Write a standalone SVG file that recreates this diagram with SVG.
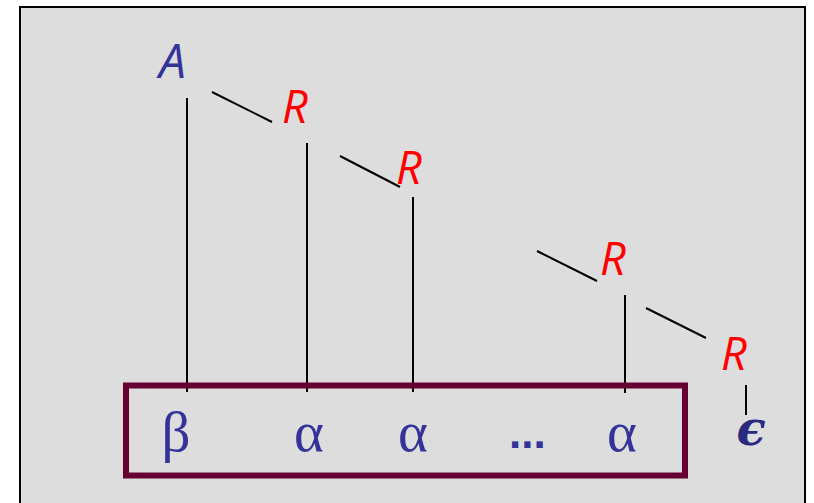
<svg xmlns="http://www.w3.org/2000/svg" width="814" height="503" viewBox="0 0 814 503">
<style>
.nt{font-family:"Open Sans","DejaVu Sans",sans-serif;font-style:italic;fill:#ff0000;font-size:45px}
.gk{font-family:"Liberation Serif","DejaVu Serif",serif;fill:#333399;font-size:57px;text-anchor:middle}
.ln{stroke:#000;stroke-width:2;fill:none}
</style>
<rect x="20" y="7" width="785" height="510" fill="#dddddd" stroke="#000" stroke-width="2"/>
<g id="connectors">
<line class="ln" x1="187" y1="98" x2="187" y2="392"/>
<line class="ln" x1="212" y1="92" x2="272" y2="122"/>
<line class="ln" x1="307" y1="143" x2="307" y2="392"/>
<line class="ln" x1="340" y1="156" x2="400" y2="187"/>
<line class="ln" x1="413" y1="197" x2="413" y2="392"/>
<line class="ln" x1="537" y1="251" x2="597" y2="281"/>
<line class="ln" x1="625" y1="295" x2="625" y2="393"/>
<line class="ln" x1="646" y1="308" x2="706" y2="338"/>
<line class="ln" x1="746" y1="385" x2="746" y2="415"/>
</g>
<g id="box"><rect x="126" y="385.5" width="559" height="90" fill="none" stroke="#660033" stroke-width="6"/></g>
<g id="A"><text x="159" y="78" class="nt" style="fill:#333399;font-size:48px">A</text></g>
<g id="R1"><text x="282" y="123" class="nt">R</text></g>
<g id="R2"><text x="396" y="184" class="nt">R</text></g>
<g id="R3"><text x="600" y="275" class="nt">R</text></g>
<g id="R4"><text x="721" y="370" class="nt">R</text></g>
<g id="beta"><text x="176" y="451" class="gk">β</text></g>
<g id="alpha1"><text x="309" y="451" class="gk">α</text></g>
<g id="alpha2"><text x="413" y="451" class="gk">α</text></g>
<g id="dots"><text x="509" y="448" style="font-family:'Liberation Sans',Arial,sans-serif;font-weight:bold;fill:#333399;font-size:44px">...</text></g>
<g id="alpha3"><text x="622" y="451" class="gk">α</text></g>
<g id="eps"><text x="751" y="445" style="font-family:'DejaVu Serif',serif;font-weight:bold;font-style:italic;fill:#2a2a80;font-size:48px;text-anchor:middle">ϵ</text></g>
</svg>
